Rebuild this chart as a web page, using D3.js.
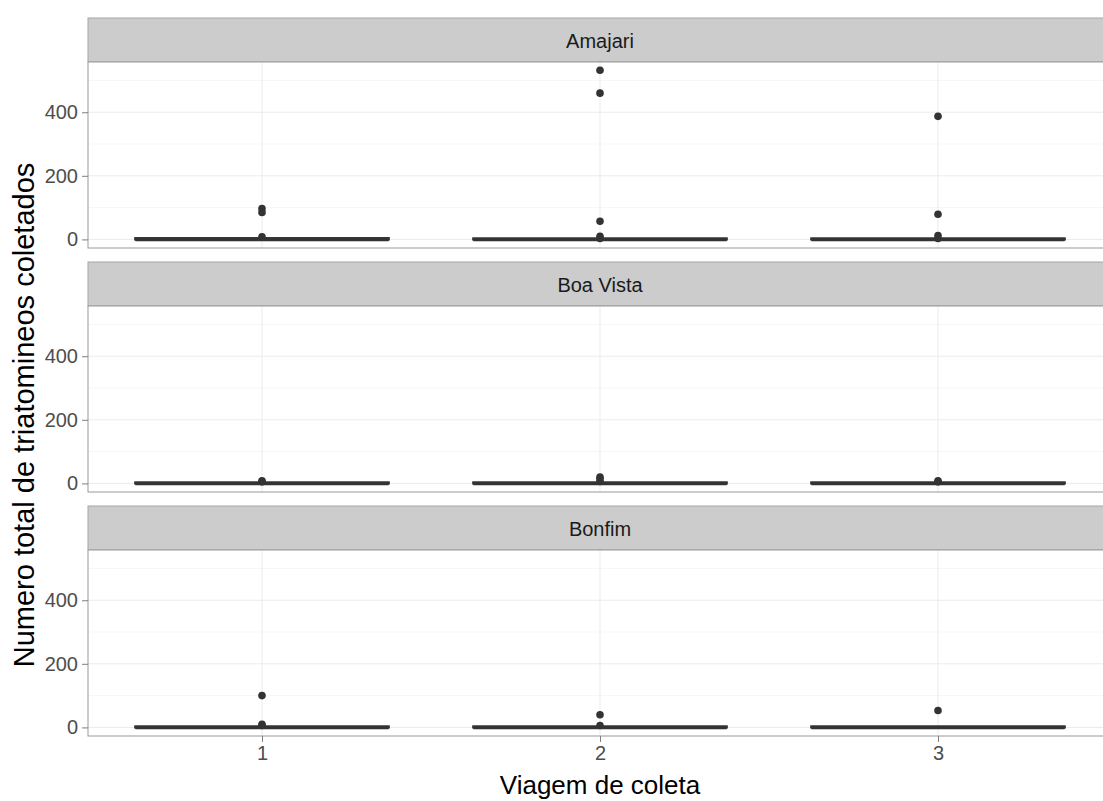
<!DOCTYPE html>
<html>
<head>
<meta charset="utf-8">
<script src="https://cdn.jsdelivr.net/npm/d3@7"></script>
<style>
  body { margin: 0; background: #fff; }
  text { font-family: "Liberation Sans", Arial, sans-serif; }
</style>
</head>
<body>
<div id="chart"></div>
<script>
// data
const sites = ['Amajari', 'Boa Vista', 'Bonfim'];
const trips = ['1', '2', '3'];
// box stats per site, per trip: [lowerWhisker, q1, median, q3, upperWhisker]
const boxAmajari = [[0, 0, 0, 4, 6], [0, 0, 0, 3, 3], [0, 0, 0, 3, 3]];
const boxBoaVista = [[0, 0, 0, 3, 3], [0, 0, 0, 3, 3], [0, 0, 0, 3, 3]];
const boxBonfim = [[0, 0, 0, 3, 3], [0, 0, 0, 3, 3], [0, 0, 0, 3, 3]];
// outliers per trip
const outAmajari = [[97, 85, 8], [532, 460, 57, 10, 3], [387, 79, 12, 3]];
const outBoaVista = [[8, 5], [20, 14, 6], [8, 5]];
const outBonfim = [[100, 10, 6], [40, 6], [53]];
const yTicks = [0, 200, 400];
const yMinor = [100, 300, 500];

const boxes = [boxAmajari, boxBoaVista, boxBonfim];
const outliers = [outAmajari, outBoaVista, outBonfim];

const width = 1103, height = 801;
const left = 88, right = 1112;
const stripH = 44, plotH = 186, step = 244, top0 = 18;
const font = '"Liberation Sans", Arial, sans-serif';

const svg = d3.select('#chart').append('svg')
  .attr('width', width).attr('height', height);

const x = d3.scalePoint().domain(trips).range([262, 938]);
const bw = 0.75 * x.step();

sites.forEach((site, i) => {
  const stripTop = top0 + i * step;
  const plotTop = stripTop + stripH;
  const g = svg.append('g');

  const y = d3.scaleLinear().domain([-27, 558]).range([plotTop + plotH, plotTop]);

  // strip
  g.append('rect')
    .attr('x', left).attr('y', stripTop)
    .attr('width', right - left).attr('height', stripH)
    .attr('fill', '#cccccc').attr('stroke', '#a6a6a6').attr('stroke-width', 1);
  g.append('text')
    .attr('x', 600).attr('y', stripTop + 30)
    .attr('text-anchor', 'middle').attr('font-size', 20).attr('fill', '#1a1a1a')
    .text(site);

  // panel background and grid
  g.append('rect')
    .attr('x', left).attr('y', plotTop)
    .attr('width', right - left).attr('height', plotH)
    .attr('fill', '#fff');
  g.selectAll('.minor').data(yMinor).join('line')
    .attr('x1', left).attr('x2', right)
    .attr('y1', d => y(d)).attr('y2', d => y(d))
    .attr('stroke', '#f7f7f7').attr('stroke-width', 1);
  g.selectAll('.hmaj').data(yTicks).join('line')
    .attr('x1', left).attr('x2', right)
    .attr('y1', d => y(d)).attr('y2', d => y(d))
    .attr('stroke', '#ebebeb').attr('stroke-width', 1);
  g.selectAll('.vmaj').data(trips).join('line')
    .attr('x1', d => x(d)).attr('x2', d => x(d))
    .attr('y1', plotTop).attr('y2', plotTop + plotH)
    .attr('stroke', '#ebebeb').attr('stroke-width', 1);

  // boxes
  trips.forEach((t, j) => {
    const [lo, q1, med, q3, hi] = boxes[i][j];
    const cx = x(t);
    g.append('line')
      .attr('x1', cx).attr('x2', cx).attr('y1', y(q3)).attr('y2', y(hi))
      .attr('stroke', '#333').attr('stroke-width', 1);
    g.append('line')
      .attr('x1', cx).attr('x2', cx).attr('y1', y(q1)).attr('y2', y(lo))
      .attr('stroke', '#333').attr('stroke-width', 1);
    g.append('rect')
      .attr('x', cx - bw / 2).attr('width', bw)
      .attr('y', y(q3)).attr('height', Math.max(0.5, y(q1) - y(q3)))
      .attr('fill', '#fff').attr('stroke', '#333').attr('stroke-width', 2.2);
    g.append('line')
      .attr('x1', cx - bw / 2).attr('x2', cx + bw / 2)
      .attr('y1', y(med)).attr('y2', y(med))
      .attr('stroke', '#333').attr('stroke-width', 3.5);

    g.selectAll(null).data(outliers[i][j]).join('circle')
      .attr('cx', cx).attr('cy', d => y(d)).attr('r', 3.8)
      .attr('fill', '#333');
  });

  // panel border
  g.append('rect')
    .attr('x', left).attr('y', plotTop)
    .attr('width', right - left).attr('height', plotH)
    .attr('fill', 'none').attr('stroke', '#999').attr('stroke-width', 1);

  // y axis
  const ya = g.append('g').attr('transform', `translate(${left},0)`)
    .call(d3.axisLeft(y).tickValues(yTicks).tickSize(6).tickPadding(4));
  ya.select('.domain').remove();
  ya.selectAll('.tick line').attr('stroke', '#7f7f7f');
  ya.selectAll('.tick text').attr('font-size', 20).attr('fill', '#4d4d4d')
    .style('font-family', font);

  if (i === sites.length - 1) {
    const xa = g.append('g').attr('transform', `translate(0,${plotTop + plotH})`)
      .call(d3.axisBottom(x).tickSize(6).tickPadding(4));
    xa.select('.domain').remove();
    xa.selectAll('.tick line').attr('stroke', '#7f7f7f');
    xa.selectAll('.tick text').attr('font-size', 20).attr('fill', '#4d4d4d')
      .style('font-family', font);
  }
});

// axis titles
svg.append('text')
  .attr('x', 600).attr('y', 794)
  .attr('text-anchor', 'middle').attr('font-size', 26).attr('fill', '#000')
  .text('Viagem de coleta');
svg.append('text')
  .attr('transform', 'translate(34,415) rotate(-90)')
  .attr('text-anchor', 'middle').attr('font-size', 29).attr('fill', '#000')
  .text('Numero total de triatomineos coletados');
</script>
</body>
</html>
